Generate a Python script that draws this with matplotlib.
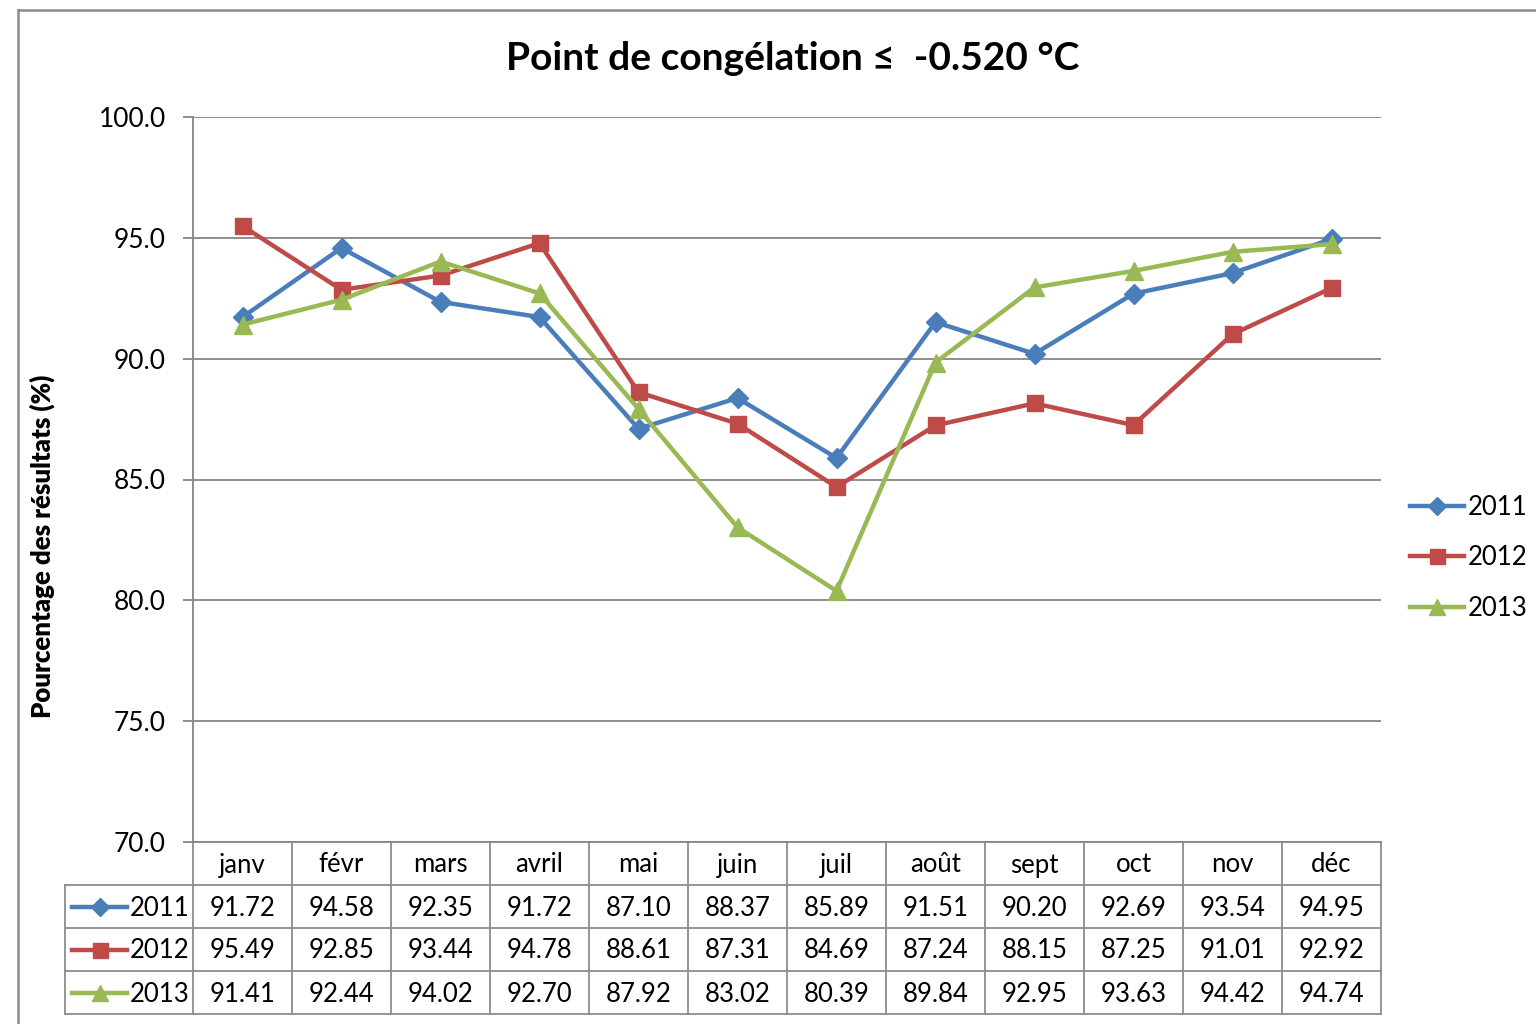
import matplotlib
matplotlib.use("Agg")
import matplotlib.pyplot as plt

plt.rcParams['font.family'] = ['Lato', 'DejaVu Sans']

months = ["janv", "févr", "mars", "avril", "mai", "juin", "juil", "août", "sept", "oct", "nov", "déc"]
years = ["2011", "2012", "2013"]
v2011 = [91.72, 94.58, 92.35, 91.72, 87.10, 88.37, 85.89, 91.51, 90.20, 92.69, 93.54, 94.95]
v2012 = [95.49, 92.85, 93.44, 94.78, 88.61, 87.31, 84.69, 87.24, 88.15, 87.25, 91.01, 92.92]
v2013 = [91.41, 92.44, 94.02, 92.70, 87.92, 83.02, 80.39, 89.84, 92.95, 93.63, 94.42, 94.74]
yticks = [70, 75, 80, 85, 90, 95, 100]

series = [v2011, v2012, v2013]
colors = ["#4A7EBB", "#BE4B48", "#98B954"]
markers = ["D", "s", "^"]
msizes = [10, 12, 13]

W, H = 1536, 1024
fig = plt.figure(figsize=(W / 100, H / 100), dpi=100)

# overlay in pixel coords
ov = fig.add_axes([0, 0, 1, 1], zorder=0)
ov.set_xlim(0, W)
ov.set_ylim(H, 0)
ov.axis("off")

L, R, T, B = 193, 1381, 117, 842
ax = fig.add_axes([L / W, 1 - B / H, (R - L) / W, (B - T) / H], zorder=1)
ax.set_facecolor("none")
x = list(range(len(months)))
for vals, c, m, ms in zip(series, colors, markers, msizes):
    ax.plot(x, vals, color=c, lw=3.2, marker=m, markersize=ms, clip_on=False, zorder=3)
ax.set_xlim(-0.5, len(months) - 0.5)
ax.set_ylim(70, 100)
ax.set_yticks(yticks)
ax.set_yticklabels([f"{v:.1f}" for v in yticks], fontsize=19)
ax.set_xticks([])
ax.grid(axis="y", color="#868686", lw=1.3)
ax.tick_params(axis="y", length=7.5, width=1.3, color="#868686", pad=12)
for s in ["top", "right"]:
    ax.spines[s].set_visible(False)
for s in ["left", "bottom"]:
    ax.spines[s].set_color("#868686")
    ax.spines[s].set_linewidth(1.3)
ax.set_axisbelow(True)

# outer border
gc = "#8C8C8C"
ov.plot([18, 18], [10, H + 5], color=gc, lw=1.8)
ov.plot([18, W + 5], [10, 10], color=gc, lw=1.8)

# title
fig.text(793 / W, 1 - 58 / H, "Point de congélation ≤  -0.520 °C", ha="center", va="center",
         fontsize=28, fontweight="bold")

# y label
fig.text(42 / W, 1 - 546 / H, "Pourcentage des résultats (%)", rotation=90, ha="center",
         va="center", fontsize=18.5, fontweight="heavy")

# data table
cw = (R - L) / len(months)
rows = [842, 885, 928, 971, 1014]
tc = "#8C8C8C"
for yy in rows[1:]:
    ov.plot([65, R], [yy, yy], color=tc, lw=1.3)
for k in range(len(months) + 1):
    ov.plot([L + k * cw, L + k * cw], [B, rows[-1]], color=tc, lw=1.3)
ov.plot([65, 65], [rows[1], rows[-1]], color=tc, lw=1.3)
for k, mname in enumerate(months):
    ov.text(L + (k + 0.5) * cw, (rows[0] + rows[1]) / 2 + 1.5, mname, ha="center", va="center", fontsize=18.5)
for r, (yr, vals, c, m, ms) in enumerate(zip(years, series, colors, markers, msizes)):
    yc = (rows[r + 1] + rows[r + 2]) / 2
    for k, v in enumerate(vals):
        ov.text(L + (k + 0.5) * cw, yc + 1.5, f"{v:.2f}", ha="center", va="center", fontsize=18.5)
    ov.plot([72, 127], [yc, yc], color=c, lw=3.2)
    ov.plot([99.5], [yc], color=c, marker=m, markersize=ms * 0.9)
    ov.text(130, yc + 1.5, yr, ha="left", va="center", fontsize=18.5)

# legend at right
for yr, c, m, ms, yy in zip(years, colors, markers, msizes, [506, 556, 607]):
    ov.plot([1410, 1464], [yy, yy], color=c, lw=3.2)
    ov.plot([1437], [yy], color=c, marker=m, markersize=ms * 0.9)
    ov.text(1468, yy + 1.5, yr, ha="left", va="center", fontsize=18.5, clip_on=False)

fig.savefig("out.png", dpi=100, facecolor="white")
